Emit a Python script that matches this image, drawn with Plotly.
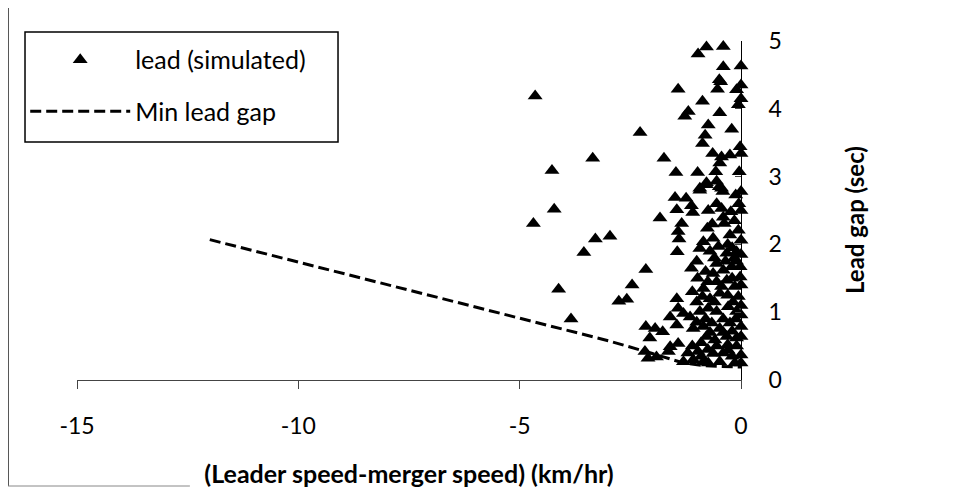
import plotly.graph_objects as go

# ---- data ----
lead_dx = [
    -4.65, -3.35, -4.27, -4.22, -4.69, -3.29, -2.96, -3.55, -4.12, -3.84,
    -2.76, -2.58, -2.46, -2.15, -1.83, -2.28, -1.74,
    -1.49, -1.24, -1.12, -1.09, -1.45, -1.34, -1.42, -1.40, -1.44, -1.12,
    -0.93, -0.78, -0.49, -0.41, -0.12, 0.0, -0.74, -0.44, -0.23, -0.40, -0.38, -0.76, -0.63,
    -0.25, -0.06, 0.0, -0.85, -0.93, -0.51, -0.32, -0.10,
    -0.55, -0.63, -0.40, -0.21, -0.02, -0.02, -0.32, -0.85, -0.87, -0.44, -0.48, -0.14, -0.06,
    -1.45, -1.42, -1.60, -1.30, -1.15, -0.93, -0.74, -0.55, -0.29, -0.10, 0.0,
    -1.45, -1.08, -0.85, -0.66, -0.48, -0.25, 0.0,
    -2.15, -1.94, -1.77, -2.06, -0.78, -0.59, -0.32, -0.10, 0.0,
    -1.60, -1.42, -1.64, -2.17, -2.10, -1.91, -1.30, -1.08, -0.97, -0.85, -0.74, -0.63, -0.48,
    -0.29, -0.14, 0.0, 0.0,
    -1.42, -0.97, -0.78, -0.40, -0.40, 0.0, -0.49, -0.46, -0.53, -0.10, 0.0, 0.0, -0.06,
    -0.87, -1.19, -1.27, -0.48, -0.74, -0.21, -0.81, -0.87, -0.02, 0.0, -0.64, -0.44, -0.25,
    -0.48, -1.47, -0.98, -0.57, -0.04, -0.78, -0.55, -0.44, -0.93,
    -0.70, -0.20, -0.60, -0.15, -0.75, -0.55, -0.20, -0.70, -0.30, -0.60, -0.18, -0.80, -0.40,
    -0.12, -1.00, -0.70, -0.40, -0.20, -0.90, -0.55, -0.30, -0.10, -1.10, -0.75, -0.40, -0.20,
    -1.20, -0.90, -1.00, -1.10, -0.98, -1.00, -0.80, -0.35, -0.10, 0.0, 0.0, 0.0, -0.30,
    -0.65, -0.15, 0.0, -0.05, -0.55,
]
lead_gap = [
    4.19, 3.27, 3.09, 2.52, 2.31, 2.08, 2.12, 1.88, 1.34, 0.90,
    1.16, 1.19, 1.40, 1.63, 2.39, 3.65, 3.27,
    2.69, 2.68, 2.57, 2.47, 2.51, 2.31, 2.19, 2.08, 1.89, 1.65,
    2.83, 2.88, 2.85, 2.78, 2.73, 2.78, 2.50, 2.53, 2.48, 2.40, 2.31, 2.24, 2.09,
    2.14, 2.21, 2.06, 2.04, 1.94, 1.97, 1.87, 1.89,
    1.72, 1.57, 1.62, 1.67, 1.67, 1.52, 1.47, 1.35, 1.23, 1.38, 1.28, 1.38, 1.23,
    1.20, 1.06, 0.93, 0.98, 0.93, 1.01, 1.06, 1.01, 1.08, 1.01, 0.96,
    0.81, 0.76, 0.79, 0.84, 0.76, 0.84, 0.79,
    0.79, 0.76, 0.71, 0.62, 0.64, 0.59, 0.64, 0.62, 0.64,
    0.49, 0.54, 0.42, 0.42, 0.32, 0.34, 0.27, 0.30, 0.42, 0.27, 0.25, 0.39, 0.27,
    0.44, 0.25, 0.37, 0.25,
    4.29, 4.81, 4.91, 4.92, 4.62, 4.63, 4.43, 4.40, 4.29, 4.28, 4.35, 4.15, 4.06,
    4.11, 3.96, 3.89, 3.94, 3.76, 3.70, 3.61, 3.49, 3.44, 3.34, 3.34, 3.29, 3.32,
    3.20, 3.06, 3.06, 3.07, 3.07, 2.91, 2.93, 2.83, 2.80,
    1.90, 1.95, 1.80, 1.80, 1.45, 1.45, 1.50, 1.20, 1.25, 1.15, 1.15, 0.90, 0.90,
    0.90, 0.85, 0.70, 0.70, 0.72, 0.55, 0.50, 0.52, 0.50, 0.50, 0.45, 0.40, 0.35,
    0.40, 0.35, 1.15, 1.30, 1.50, 1.75, 1.60, 1.75, 1.75, 1.40, 1.10, 1.85, 2.00,
    2.30, 2.35, 2.50, 2.60, 2.60,
]
min_dx = [-12.0, -10.0, -8.0, -6.0, -4.0, -3.0, -2.0, -1.3, -0.8, 0.0]
min_gap = [2.07, 1.74, 1.40, 1.07, 0.74, 0.58, 0.39, 0.25, 0.21, 0.19]

x_ticks = [-15, -10, -5, 0]
y_ticks = [0, 1, 2, 3, 4, 5]

FONT = "Lato"

fig = go.Figure()
fig.add_trace(go.Scatter(
    x=lead_dx, y=lead_gap, mode="markers", name="lead (simulated)",
    marker=dict(symbol="triangle-up", size=13, color="black", line=dict(width=0)),
    cliponaxis=False, legendgroup="a",
))
fig.add_trace(go.Scatter(
    x=min_dx, y=min_gap, mode="lines", name="Min lead gap",
    line=dict(color="black", width=3, dash="11px,5px"),
    cliponaxis=False, legendgroup="b",
))

fig.update_layout(
    width=947, height=490, autosize=False,
    margin=dict(l=69, r=214, t=33, b=118),
    paper_bgcolor="white", plot_bgcolor="white",
    font=dict(family=FONT, size=23, color="black"),
    showlegend=True,
    legend=dict(
        x=-0.078, y=1.0118, xanchor="left", yanchor="top",
        borderwidth=0, bgcolor="rgba(0,0,0,0)",
        font=dict(family=FONT, size=25, color="black"),
        itemwidth=100, tracegroupgap=16,
    ),
    xaxis=dict(
        range=[-15, 0], tickvals=x_ticks, ticktext=[str(v) for v in x_ticks],
        showgrid=False, zeroline=False, showline=True, linecolor="#444", linewidth=1,
        ticks="outside", ticklen=8, tickcolor="#444", ticklabelstandoff=17,
        title=dict(text="<b>(Leader speed-merger speed) (km/hr)</b>",
                   font=dict(family=FONT, size=25), standoff=27),
    ),
    yaxis=dict(
        range=[0, 5], tickvals=y_ticks, side="right",
        showgrid=False, zeroline=False, showline=True, linecolor="black", linewidth=1,
        ticks="inside", ticklen=6, tickcolor="#444", ticklabelstandoff=22,
    ),
    annotations=[
        dict(text="<b>Lead gap (sec)</b>", xref="paper", yref="paper",
             x=1.1717, y=0.472, textangle=-90, showarrow=False,
             xanchor="center", yanchor="middle",
             font=dict(family=FONT, size=24, color="black")),
    ],
    shapes=[
        # outer chart border
        dict(type="line", xref="paper", yref="paper", x0=-0.1039, x1=-0.1039,
             y0=-0.3127, y1=1.097, line=dict(color="#222", width=1.5)),
        dict(type="line", xref="paper", yref="paper", x0=-0.1039, x1=0.17,
             y0=-0.3127, y1=-0.3127, line=dict(color="#888", width=1)),
        # legend frame
        dict(type="rect", xref="paper", yref="paper", x0=-0.0783, x1=0.3931,
             y0=0.7021, y1=1.0265, line=dict(color="black", width=1.5),
             fillcolor="rgba(0,0,0,0)", layer="below"),
    ],
)

fig.write_html("out.html")
